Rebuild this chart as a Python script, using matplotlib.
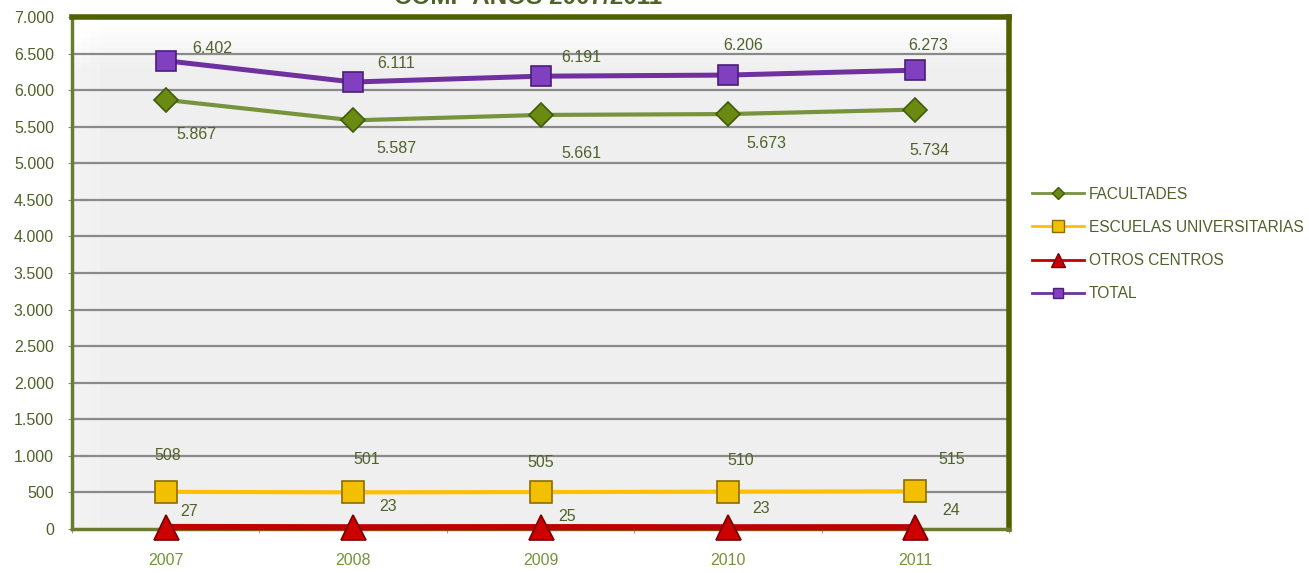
import matplotlib
matplotlib.use("Agg")
import matplotlib.pyplot as plt
import numpy as np

# datos
years = ["2007", "2008", "2009", "2010", "2011"]
facultades = [5867, 5587, 5661, 5673, 5734]
escuelas = [508, 501, 505, 510, 515]
otros = [27, 23, 25, 23, 24]
total = [6402, 6111, 6191, 6206, 6273]
series_names = ["FACULTADES", "ESCUELAS UNIVERSITARIAS", "OTROS CENTROS", "TOTAL"]
y_ticks = list(range(0, 7001, 500))

plt.rcParams['font.family'] = ['Liberation Sans', 'DejaVu Sans']

TXT = "#4f6228"

fig = plt.figure(figsize=(13.09, 5.73), dpi=100)
ax = fig.add_axes([72 / 1309, 44 / 573, 937 / 1309, 512 / 573])

x = np.arange(len(years)) + 0.5

# fondo con degradado (pared 3D)
yy = np.linspace(0, 1, 100)[:, None]
xx = np.linspace(0, 1, 100)[None, :]
grad = 0.935 + 0.065 * np.clip((yy - 0.90) / 0.10, 0, 1) + 0.02 * np.clip((0.03 - xx) / 0.03, 0, 1)
grad = np.clip(grad, 0, 1)
ax.imshow(grad, extent=[0, 1, 0, 1], transform=ax.transAxes, cmap="gray",
          vmin=0, vmax=1, origin="lower", aspect="auto", zorder=0)

for t in y_ticks[1:]:
    ax.axhline(t, color="#8a8a8a", lw=1.6, zorder=1)

styles = [
    (facultades, "#77933c", 3.0, "D", 12, "#6a8a12", "#3f5a0a"),
    (escuelas, "#ffc000", 3.0, "s", 16, "#f2c000", "#8a6d00"),
    (otros, "#c00000", 4.5, "^", 18, "#cc0000", "#7a0000"),
    (total, "#7030a0", 3.6, "s", 14, "#8040c0", "#4b1e78"),
]
handles = []
for (vals, col, lw, mk, ms, fc, ec), name in zip(styles, series_names):
    ax.plot(x, vals, color=col, lw=lw, zorder=3, solid_capstyle="butt", clip_on=False)
    ax.plot(x, vals, ls="none", marker=mk, ms=ms, mfc=fc, mec=ec, mew=1.2, zorder=4, clip_on=False)
    h, = plt.plot([], [], color=col, lw=2, marker=mk, ms=ms * 0.55, mfc=fc, mec=ec)
    handles.append(h)

# etiquetas de datos (desplazamientos en pixeles)
offsets = {
    0: [(31, -35), (43, -28), (41, -39), (38, -29), (14, -41)],
    1: [(2, 36), (14, 33), (0, 30), (13, 31), (36, 32)],
    2: [(23, 16), (35, 21), (27, 11), (33, 19), (36, 17)],
    3: [(47, 12), (43, 19), (41, 19), (15, 30), (13, 25)],
}
for i, vals in enumerate([facultades, escuelas, otros, total]):
    for j, v in enumerate(vals):
        lab = f"{v:,}".replace(",", ".")
        ax.annotate(lab, (x[j], v), xytext=offsets[i][j], textcoords="offset pixels",
                    ha="center", va="center", fontsize=11.5, color=TXT, zorder=5)

ax.set_xlim(0, 5)
ax.set_ylim(0, 7000)
ax.set_yticks(y_ticks)
ax.set_yticklabels([f"{t:,}".replace(",", ".") for t in y_ticks])
ax.set_xticks(x)
ax.set_xticklabels(years)
ax.set_xticks(np.arange(0, 6), minor=True)
ax.tick_params(axis="x", which="major", length=0, pad=17, labelsize=11.5, labelcolor="#76923c")
ax.tick_params(axis="x", which="minor", length=3, color="#8c8c8c")
ax.tick_params(axis="y", length=3, color="#8c8c8c", labelsize=11.5, labelcolor=TXT, pad=10)

for s in ["top", "right"]:
    ax.spines[s].set_color("#4f6100")
    ax.spines[s].set_linewidth(4)
for s in ["left", "bottom"]:
    ax.spines[s].set_color("#6b7d2a")
    ax.spines[s].set_linewidth(2.5)

fig.text(528 / 1309, 1.004, "COMP AÑOS 2007/2011", ha="center", va="center",
         fontsize=17.5, fontweight="bold", color=TXT)

fig.legend(handles, series_names, loc="center left", bbox_to_anchor=(1018 / 1309, 1 - 244 / 573),
           frameon=False, fontsize=11.2, labelcolor=TXT, handlelength=3.35,
           handletextpad=0.3, labelspacing=1.17)

fig.savefig("out.png", dpi=100)
